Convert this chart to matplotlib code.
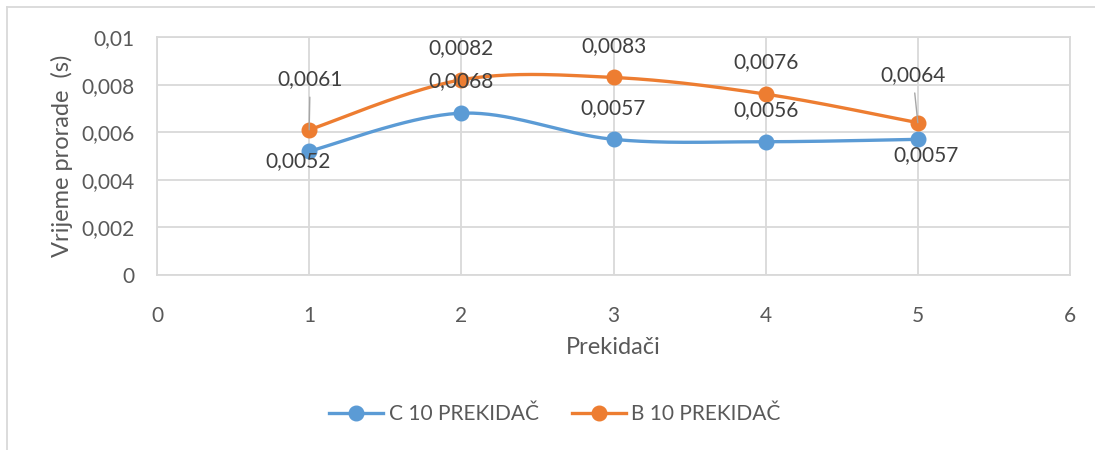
import numpy as np
import matplotlib
matplotlib.use("Agg")
import matplotlib.pyplot as plt
from matplotlib.lines import Line2D
from matplotlib.ticker import FuncFormatter, MultipleLocator

# Number of breakers and measured operating times (s)
prekidaci = [1, 2, 3, 4, 5]
c10_vrijeme = [0.0052, 0.0068, 0.0057, 0.0056, 0.0057]
b10_vrijeme = [0.0061, 0.0082, 0.0083, 0.0076, 0.0064]
series_names = ["C 10 PREKIDAČ", "B 10 PREKIDAČ"]

BLUE = "#5B9BD5"
ORANGE = "#ED7D31"
GRID = "#D9D9D9"
TEXT = "#595959"
LABEL = "#404040"

plt.rcParams["font.family"] = ["Lato", "DejaVu Sans"]


def smooth_curve(xs, ys, steps=40):
    """Bezier smoothing through the points, same style as spreadsheet 'smoothed lines'."""
    x = np.asarray(xs, dtype=float)
    y = np.asarray(ys, dtype=float)
    px = np.concatenate([[x[0]], x, [x[-1]]])
    py = np.concatenate([[y[0]], y, [y[-1]]])
    out_x, out_y = [], []
    t = np.linspace(0, 1, steps)
    for i in range(1, len(px) - 2):
        p0 = np.array([px[i], py[i]])
        p3 = np.array([px[i + 1], py[i + 1]])
        p1 = p0 + (np.array([px[i + 1], py[i + 1]]) - np.array([px[i - 1], py[i - 1]])) / 6
        p2 = p3 - (np.array([px[i + 2], py[i + 2]]) - p0) / 6
        b = ((1 - t) ** 3)[:, None] * p0 + (3 * (1 - t) ** 2 * t)[:, None] * p1 \
            + (3 * (1 - t) * t ** 2)[:, None] * p2 + (t ** 3)[:, None] * p3
        out_x.extend(b[:, 0])
        out_y.extend(b[:, 1])
    return out_x, out_y


def fmt_comma(v, _pos=None):
    return f"{v:g}".replace(".", ",")


fig = plt.figure(figsize=(10.95, 4.5), dpi=100)
ax = fig.add_axes([157 / 1095, 1 - 275 / 450, (1070 - 157) / 1095, (275 - 37) / 450])

# outer chart border (only top and left edges fall inside the image)
fig.add_artist(Line2D([7 / 1095, 7 / 1095], [0, 1 - 7 / 450], transform=fig.transFigure,
                      color=GRID, lw=1.3))
fig.add_artist(Line2D([7 / 1095, 1], [1 - 7 / 450, 1 - 7 / 450], transform=fig.transFigure,
                      color=GRID, lw=1.3))

for ys, color, name in [(c10_vrijeme, BLUE, series_names[0]),
                        (b10_vrijeme, ORANGE, series_names[1])]:
    sx, sy = smooth_curve(prekidaci, ys)
    ax.plot(sx, sy, color=color, lw=2.4, solid_capstyle="round", zorder=3)
    ax.plot(prekidaci, ys, "o", color=color, ms=10.5, zorder=4, label=name)

# data labels, offsets in pixels from each point
c_offsets = [(-11, -10), (0, 32), (0, 31), (0, 32), (8, -16)]
b_offsets = [(1, 51), (0, 32), (0, 31), (0, 32), (-5, 48)]
leader = [True, False, False, False, True]

for x, v, off in zip(prekidaci, c10_vrijeme, c_offsets):
    ax.annotate(f"{v:.4f}".replace(".", ","), (x, v), xytext=off, textcoords="offset pixels",
                ha="center", va="center", fontsize=15, color=LABEL, zorder=6,
                annotation_clip=False)

for x, v, off, lead in zip(prekidaci, b10_vrijeme, b_offsets, leader):
    arrow = dict(arrowstyle="-", color="#A6A6A6", lw=1, shrinkA=4, shrinkB=0) if lead else None
    ax.annotate(f"{v:.4f}".replace(".", ","), (x, v), xytext=off, textcoords="offset pixels",
                ha="center", va="center", fontsize=15, color=LABEL, zorder=6,
                arrowprops=arrow, annotation_clip=False)

ax.set_xlim(0, 6)
ax.set_ylim(0, 0.01)
ax.xaxis.set_major_locator(MultipleLocator(1))
ax.yaxis.set_major_locator(MultipleLocator(0.002))
ax.yaxis.set_major_formatter(FuncFormatter(fmt_comma))
ax.grid(True, color=GRID, lw=1.3, zorder=0)
ax.set_axisbelow(True)
for s in ax.spines.values():
    s.set_color(GRID)
    s.set_linewidth(1.3)
ax.tick_params(length=0, labelsize=15, labelcolor=TEXT)
ax.tick_params(axis="x", pad=22)
ax.tick_params(axis="y", pad=16)

ax.set_xlabel("Prekidači", fontsize=17, color=TEXT, labelpad=8)
ax.set_ylabel("Vrijeme prorade  (s)", fontsize=17, color=TEXT, labelpad=6)

handles = [Line2D([0], [0], color=c, lw=2.4, marker="o", ms=10.5) for c in (BLUE, ORANGE)]
fig.legend(handles, series_names, loc="center", bbox_to_anchor=(555 / 1095, 1 - 414 / 450),
           ncol=2, frameon=False, fontsize=15, labelcolor=TEXT, handlelength=2.6,
           handletextpad=0.25, columnspacing=1.6)

fig.savefig("out.png", dpi=100)
